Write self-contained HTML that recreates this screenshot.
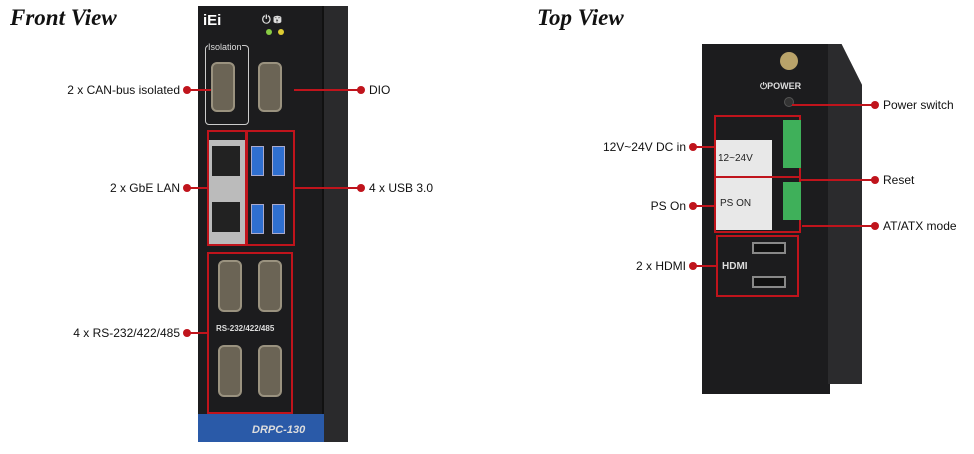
<!DOCTYPE html>
<html><head><style>
body{margin:0;width:974px;height:454px;background:#fff;position:relative;overflow:hidden;font-family:"Liberation Sans",sans-serif;}
div{position:absolute;box-sizing:border-box;}
.t{font-family:"Liberation Serif",serif;font-style:italic;font-weight:bold;font-size:23px;color:#111;}
.l{font-size:12px;color:#111;white-space:nowrap;line-height:14px;}
.r{text-align:right;}
.ln{height:2px;background:#c0141c;}
.d{width:8px;height:8px;border-radius:50%;background:#c0141c;}
.rb{border:2px solid #c0141c;}
.db9{background:#6b6455;border-radius:6px;border:2px solid #9a927f;}
.usb{background:#2f6fd0;border:1px solid #aac;}
.wt{color:#ddd;font-size:9px;font-weight:bold;white-space:nowrap;}
</style></head><body>
<div class="t" style="left:10px;top:5px;">Front View</div>
<div class="t" style="left:537px;top:5px;">Top View</div>

<!-- front device -->
<div style="left:198px;top:6px;width:126px;height:436px;background:#1c1c1e;"></div>
<div style="left:322px;top:6px;width:26px;height:436px;background:#2a2a2c;border-left:2px solid #111;"></div>
<div style="left:198px;top:414px;width:126px;height:28px;background:#2a5aa8;"></div>
<div class="wt" style="left:252px;top:424px;font-size:11px;font-style:italic;">DRPC-130</div>
<div style="left:203px;top:12px;width:22px;height:16px;color:#fff;font-weight:bold;font-size:15px;">iEi</div>
<div class="wt" style="left:262px;top:14px;font-size:11px;">⏻ ⛁</div>
<div style="left:266px;top:29px;width:6px;height:6px;border-radius:50%;background:#8c4;"></div>
<div style="left:278px;top:29px;width:6px;height:6px;border-radius:50%;background:#dc3;"></div>
<div style="left:205px;top:45px;width:44px;height:80px;border:1px solid #ccc;border-radius:4px;"></div>
<div class="wt" style="left:208px;top:42px;background:#1c1c1e;font-weight:normal;">Isolation</div>
<div class="db9" style="left:211px;top:62px;width:24px;height:50px;"></div>
<div class="db9" style="left:258px;top:62px;width:24px;height:50px;"></div>
<div class="rb" style="left:207px;top:130px;width:40px;height:116px;"></div>
<div style="left:209px;top:140px;width:36px;height:104px;background:#bbb;"></div>
<div style="left:212px;top:146px;width:28px;height:30px;background:#222;"></div>
<div style="left:212px;top:202px;width:28px;height:30px;background:#222;"></div>
<div class="rb" style="left:246px;top:130px;width:49px;height:116px;"></div>
<div class="usb" style="left:251px;top:146px;width:13px;height:30px;"></div>
<div class="usb" style="left:272px;top:146px;width:13px;height:30px;"></div>
<div class="usb" style="left:251px;top:204px;width:13px;height:30px;"></div>
<div class="usb" style="left:272px;top:204px;width:13px;height:30px;"></div>
<div class="rb" style="left:207px;top:252px;width:86px;height:162px;"></div>
<div class="db9" style="left:218px;top:260px;width:24px;height:52px;"></div>
<div class="db9" style="left:258px;top:260px;width:24px;height:52px;"></div>
<div class="db9" style="left:218px;top:345px;width:24px;height:52px;"></div>
<div class="db9" style="left:258px;top:345px;width:24px;height:52px;"></div>
<div class="wt" style="left:216px;top:324px;font-size:8px;">RS-232/422/485</div>

<!-- front labels -->
<div class="l r" style="left:0;width:180px;top:83px;">2 x CAN-bus isolated</div>
<div class="d" style="left:183px;top:86px;"></div><div class="ln" style="left:187px;top:89px;width:24px;"></div>
<div class="l r" style="left:0;width:180px;top:181px;">2 x GbE LAN</div>
<div class="d" style="left:183px;top:184px;"></div><div class="ln" style="left:187px;top:187px;width:22px;"></div>
<div class="l r" style="left:0;width:180px;top:326px;">4 x RS-232/422/485</div>
<div class="d" style="left:183px;top:329px;"></div><div class="ln" style="left:187px;top:332px;width:22px;"></div>
<div class="ln" style="left:294px;top:89px;width:66px;"></div><div class="d" style="left:357px;top:86px;"></div>
<div class="l" style="left:369px;top:83px;">DIO</div>
<div class="ln" style="left:294px;top:187px;width:66px;"></div><div class="d" style="left:357px;top:184px;"></div>
<div class="l" style="left:369px;top:181px;">4 x USB 3.0</div>

<!-- top device -->
<div style="left:702px;top:44px;width:128px;height:350px;background:#1c1c1e;"></div>
<div style="left:828px;top:44px;width:34px;height:340px;background:#2b2b2d;clip-path:polygon(0 0,40% 0,100% 12%,100% 100%,0 100%);"></div>
<div style="left:780px;top:52px;width:18px;height:18px;border-radius:50%;background:#b9a36a;"></div>
<div class="wt" style="left:760px;top:81px;">⏻POWER</div>
<div style="left:784px;top:97px;width:10px;height:10px;border-radius:50%;background:#333;border:1px solid #555;"></div>
<div class="rb" style="left:714px;top:115px;width:87px;height:118px;"></div>
<div style="left:716px;top:140px;width:56px;height:90px;background:#e8e8e8;"></div>
<div style="left:772px;top:117px;width:0;height:0;"></div>
<div style="left:718px;top:153px;font-size:10px;color:#222;">12~24V</div>
<div style="left:720px;top:198px;font-size:10px;color:#222;">PS ON</div>
<div style="left:716px;top:176px;width:84px;height:2px;background:#c0141c;"></div>
<div style="left:783px;top:120px;width:18px;height:48px;background:#3fb05a;"></div>
<div style="left:783px;top:182px;width:18px;height:38px;background:#3fb05a;"></div>
<div class="rb" style="left:716px;top:235px;width:83px;height:62px;"></div>
<div style="left:752px;top:242px;width:34px;height:12px;background:#111;border:2px solid #888;"></div>
<div style="left:752px;top:276px;width:34px;height:12px;background:#111;border:2px solid #888;"></div>
<div class="wt" style="left:722px;top:261px;font-size:10px;">HDMI</div>

<!-- top labels -->
<div class="l r" style="left:500px;width:186px;top:140px;">12V~24V DC in</div>
<div class="d" style="left:689px;top:143px;"></div><div class="ln" style="left:693px;top:146px;width:22px;"></div>
<div class="l r" style="left:500px;width:186px;top:199px;">PS On</div>
<div class="d" style="left:689px;top:202px;"></div><div class="ln" style="left:693px;top:205px;width:22px;"></div>
<div class="l r" style="left:500px;width:186px;top:259px;">2 x HDMI</div>
<div class="d" style="left:689px;top:262px;"></div><div class="ln" style="left:693px;top:265px;width:24px;"></div>
<div class="ln" style="left:792px;top:104px;width:82px;"></div><div class="d" style="left:871px;top:101px;"></div>
<div class="l" style="left:883px;top:98px;">Power switch</div>
<div class="ln" style="left:800px;top:179px;width:74px;"></div><div class="d" style="left:871px;top:176px;"></div>
<div class="l" style="left:883px;top:173px;">Reset</div>
<div class="ln" style="left:802px;top:225px;width:72px;"></div><div class="d" style="left:871px;top:222px;"></div>
<div class="l" style="left:883px;top:219px;">AT/ATX mode</div>
</body></html>
